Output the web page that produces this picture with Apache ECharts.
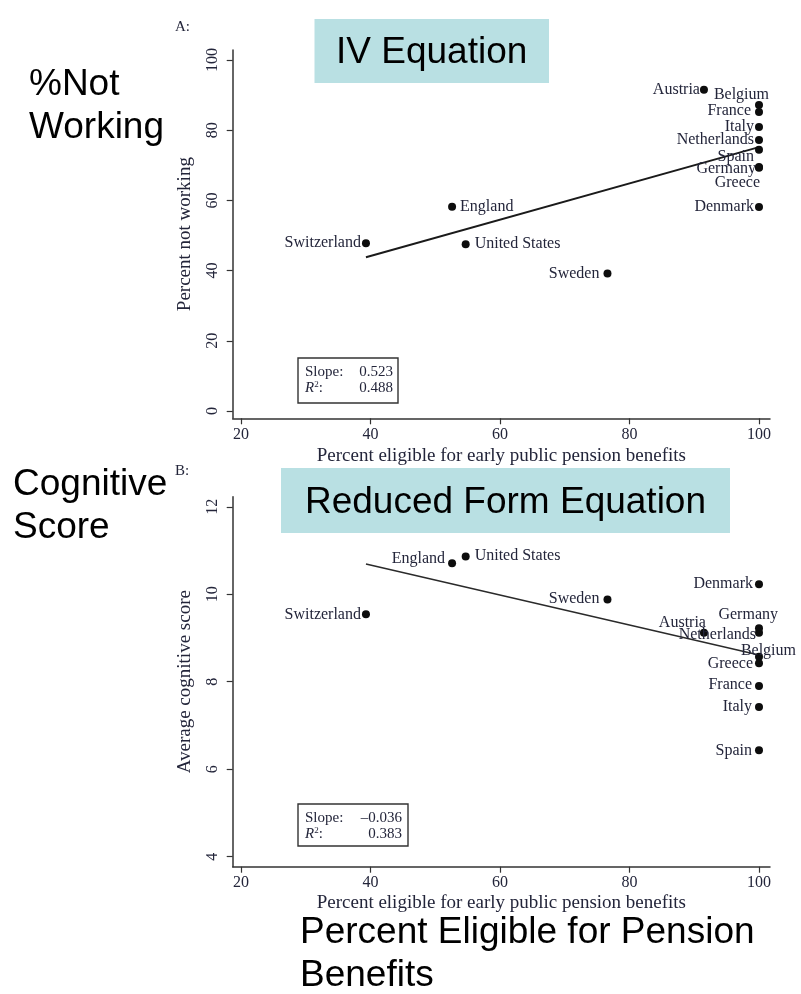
<!DOCTYPE html>
<html><head><meta charset="utf-8">
<script src="https://cdn.jsdelivr.net/npm/echarts@6/dist/echarts.min.js"></script>
<style>html,body{margin:0;padding:0;background:#fff}#c{width:801px;height:994px}</style>
</head><body><div id="c"></div>
<script>
// ---- data ----
const countries = ['Austria','Belgium','France','Italy','Netherlands','Spain','Germany','Greece','Denmark','England','Switzerland','United States','Sweden'];
const eligible = [91.5, 100, 100, 100, 100, 100, 100, 100, 100, 52.6, 39.3, 54.7, 76.6];
const pctNotWorking = [91.5, 87.2, 85.2, 80.9, 77.2, 74.4, 69.5, 69.3, 58.1, 58.2, 47.8, 47.5, 39.2];
const cogScore = [9.12, 8.57, 7.9, 7.42, 9.12, 6.43, 9.22, 8.42, 10.23, 10.71, 9.54, 10.86, 9.88];
const fitX = [39.3, 100];
const fitNotWorking = [43.8, 75.2];
const fitCognitive = [10.69, 8.61];
const xTicks = [20, 40, 60, 80, 100];
const yTicksTop = [0, 20, 40, 60, 80, 100];
const yTicksBottom = [4, 6, 8, 10, 12];
const statsTop = ['0.523', '0.488'];
const statsBottom = ['\u20130.036', '0.383'];

// ---- label placement (style) ----
const placeTop = {
  'Austria':['left',1,0], 'Belgium':['left',15,-10], 'France':['left',-3,-1], 'Italy':['left',0,0],
  'Netherlands':['left',0,0], 'Spain':['left',0,7], 'Germany':['left',2,2], 'Greece':['left',6,15],
  'Denmark':['left',0,0], 'England':['right',3,0], 'Switzerland':['left',0,0], 'United States':['right',4,0], 'Sweden':['left',-3,0]
};
const placeBottom = {
  'Austria':['left',7,-10], 'Belgium':['left',42,-6], 'France':['left',-2,-1], 'Italy':['left',-2,0],
  'Netherlands':['left',2,2], 'Spain':['left',-2,0], 'Germany':['left',24,-14], 'Greece':['left',-1,0],
  'Denmark':['left',-1,0], 'England':['left',-2,-4], 'Switzerland':['left',0,0], 'United States':['right',4,-1], 'Sweden':['left',-3,-1]
};

const SERIF = 'Liberation Serif';
const SANS = 'Liberation Sans';
const TXT = '#23253a';
const AX = '#333333';

function pts(yArr, place) {
  return countries.map((c, i) => ({
    name: c, value: [eligible[i], yArr[i]],
    label: { position: place[c][0], offset: [place[c][1], place[c][2]] }
  }));
}
function fitLine(yArr) { return fitX.map((x, i) => [x, yArr[i]]); }

function xAxis(idx, gap) {
  return {
    type: 'value', gridIndex: idx, min: 18.72, max: 101.7,
    axisLine: { show: true, onZero: false, lineStyle: { color: AX, width: 1.5 } },
    axisTick: { show: true, length: 6, customValues: xTicks, lineStyle: { color: AX, width: 1.2 } },
    axisLabel: { customValues: xTicks, fontFamily: SERIF, fontSize: 16, color: TXT, margin: 8 },
    splitLine: { show: false },
    name: 'Percent eligible for early public pension benefits', nameLocation: 'middle', nameGap: gap,
    nameTextStyle: { fontFamily: SERIF, fontSize: 19, color: TXT }
  };
}
function yAxis(idx, min, max, ticks, name) {
  return {
    type: 'value', gridIndex: idx, min: min, max: max,
    axisLine: { show: true, onZero: false, lineStyle: { color: AX, width: 1.5 } },
    axisTick: { show: true, length: 6, customValues: ticks, lineStyle: { color: AX, width: 1.2 } },
    axisLabel: { customValues: ticks, rotate: 90, fontFamily: SERIF, fontSize: 16, color: TXT, margin: 12 },
    splitLine: { show: false },
    name: name, nameLocation: 'middle', nameRotate: 90, nameGap: 38,
    nameTextStyle: { fontFamily: SERIF, fontSize: 19, color: TXT }
  };
}
const labelBase = { show: true, formatter: '{b}', distance: 1, fontFamily: SERIF, fontSize: 16, color: TXT };

function statBox(x, y, w, h, vals, valRight) {
  return {
    type: 'group', z: 50, children: [
      { type: 'rect', shape: { x: x, y: y, width: w, height: h }, style: { fill: '#fff', stroke: '#333', lineWidth: 1.4 } },
      { type: 'text', style: { text: 'Slope:', x: x + 7, y: y + 14, font: '15px ' + SERIF, fill: TXT, verticalAlign: 'middle' } },
      { type: 'text', style: { text: '{i|R}{s|2}:', x: x + 7, y: y + 30, fill: TXT, verticalAlign: 'middle',
          rich: { i: { fontFamily: SERIF, fontSize: 15, fontStyle: 'italic', fill: TXT }, s: { fontFamily: SERIF, fontSize: 9, fill: TXT, padding: [0,0,6,0] } },
          font: '15px ' + SERIF } },
      { type: 'text', style: { text: vals[0], x: valRight, y: y + 14, font: '15px ' + SERIF, fill: TXT, align: 'right', verticalAlign: 'middle' } },
      { type: 'text', style: { text: vals[1], x: valRight, y: y + 30, font: '15px ' + SERIF, fill: TXT, align: 'right', verticalAlign: 'middle' } }
    ]
  };
}
function bigText(str, x, y, anchor) {
  return { type: 'text', z: 60, style: { text: str, x: x, y: y, font: '37px ' + SANS, fill: '#000', align: anchor || 'left', verticalAlign: 'middle' } };
}

const chart = echarts.init(document.getElementById('c'), null, { renderer: 'canvas' });
chart.setOption({
  animation: false,
  backgroundColor: '#fff',
  grid: [
    { left: 232.7, top: 50, width: 537.3, height: 368.3, containLabel: false, outerBoundsMode: 'none' },
    { left: 232.7, top: 496.7, width: 537.3, height: 370, containLabel: false, outerBoundsMode: 'none' }
  ],
  xAxis: [xAxis(0, 28), xAxis(1, 27)],
  yAxis: [
    yAxis(0, -2.08, 102.85, yTicksTop, 'Percent not working'),
    yAxis(1, 3.77, 12.23, yTicksBottom, 'Average cognitive score')
  ],
  series: [
    { type: 'line', xAxisIndex: 0, yAxisIndex: 0, data: fitLine(fitNotWorking), symbol: 'none', lineStyle: { color: '#1a1a1a', width: 1.9 }, z: 2 },
    { type: 'scatter', xAxisIndex: 0, yAxisIndex: 0, data: pts(pctNotWorking, placeTop), symbolSize: 8, itemStyle: { color: '#0d0d0d', opacity: 1 }, label: labelBase, z: 3 },
    { type: 'line', xAxisIndex: 1, yAxisIndex: 1, data: fitLine(fitCognitive), symbol: 'none', lineStyle: { color: '#2a2a2a', width: 1.4 }, z: 2 },
    { type: 'scatter', xAxisIndex: 1, yAxisIndex: 1, data: pts(cogScore, placeBottom), symbolSize: 8, itemStyle: { color: '#0d0d0d', opacity: 1 }, label: labelBase, z: 3 }
  ],
  graphic: [
    { type: 'text', style: { text: 'A:', x: 175, y: 27, font: '15px ' + SERIF, fill: TXT, verticalAlign: 'middle' } },
    { type: 'text', style: { text: 'B:', x: 175, y: 471, font: '15px ' + SERIF, fill: TXT, verticalAlign: 'middle' } },
    statBox(298, 358, 100, 45, statsTop, 393),
    statBox(298, 804, 110, 42, statsBottom, 402),
    { type: 'rect', z: 55, shape: { x: 314.5, y: 19, width: 234.5, height: 64 }, style: { fill: '#b9e0e3' } },
    { type: 'text', z: 60, style: { text: 'IV Equation', x: 431.7, y: 53, font: '37px ' + SANS, fill: '#000', align: 'center', verticalAlign: 'middle' } },
    { type: 'rect', z: 55, shape: { x: 281, y: 468, width: 449, height: 65 }, style: { fill: '#b9e0e3' } },
    { type: 'text', z: 60, style: { text: 'Reduced Form Equation', x: 505.5, y: 503, font: '37px ' + SANS, fill: '#000', align: 'center', verticalAlign: 'middle' } },
    bigText('%Not', 29, 85),
    bigText('Working', 29, 128),
    bigText('Cognitive', 13, 485),
    bigText('Score', 13, 528),
    bigText('Percent Eligible for Pension', 300, 933),
    bigText('Benefits', 300, 976)
  ]
});
</script></body></html>
